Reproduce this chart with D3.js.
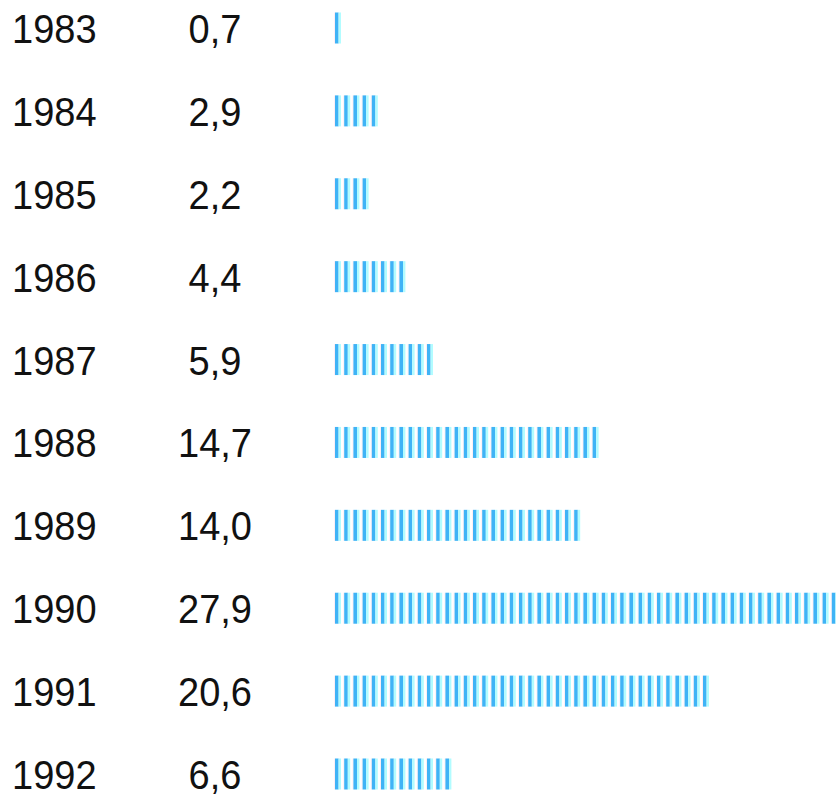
<!DOCTYPE html>
<html lang="en">
  <head>
    <title>Bars by year</title>
    <meta charset="utf-8" />
    <script src="https://cdn.jsdelivr.net/npm/d3@7"></script>
    <style>
      body { margin: 0; background: #fff; }
    </style>
  </head>
  <body>
    <svg id="chart" width="836" height="794"></svg>
    <script>
      // data
      const years = ["1983", "1984", "1985", "1986", "1987", "1988", "1989", "1990", "1991", "1992"];
      const values = [0.7, 2.9, 2.2, 4.4, 5.9, 14.7, 14.0, 27.9, 20.6, 6.6];
      const valueLabels = ["0,7", "2,9", "2,2", "4,4", "5,9", "14,7", "14,0", "27,9", "20,6", "6,6"];
      // number of "|" marks counted in each bar
      const stripeCounts = [1, 5, 4, 8, 11, 29, 27, 55, 41, 13];

      const data = years.map((y, i) => ({
        year: y,
        value: values[i],
        label: valueLabels[i],
        stripes: stripeCounts[i]
      }));

      const svg = d3.select("#chart")
        .attr("font-family", "Liberation Sans, Arial, sans-serif");

      // one row per year
      const yScale = d3.scalePoint()
        .domain(years)
        .range([28, 774]);

      // position of each stripe along the bar
      const xScale = d3.scaleLinear()
        .domain([0, 1])
        .range([335, 344.2]);

      const barHeight = 31;

      const rows = svg.selectAll(".row")
        .data(data)
        .enter()
        .append("g")
        .attr("class", "row")
        .attr("transform", (d) => `translate(0, ${yScale(d.year)})`);

      rows.append("text")
        .attr("transform", "translate(12, 15) scale(1, 1.07)")
        .attr("font-size", "38px")
        .attr("fill", "#111")
        .text((d) => d.year);

      rows.append("text")
        .attr("transform", "translate(215, 15) scale(1, 1.07)")
        .attr("text-anchor", "middle")
        .attr("font-size", "38px")
        .attr("fill", "#111")
        .text((d) => d.label);

      // stripes
      const stripes = rows.selectAll(".stripe")
        .data((d) => d3.range(d.stripes))
        .enter()
        .append("g")
        .attr("class", "stripe")
        .attr("transform", (k) => `translate(${xScale(k)}, ${-barHeight / 2})`);

      stripes.append("rect")
        .attr("x", -1)
        .attr("width", 1)
        .attr("height", barHeight)
        .attr("fill", "#fdeef5");

      stripes.append("rect")
        .attr("x", 0)
        .attr("width", 3.6)
        .attr("height", barHeight)
        .attr("fill", "#3fb3f6");

      stripes.append("rect")
        .attr("x", 3.6)
        .attr("width", 2.4)
        .attr("height", barHeight)
        .attr("fill", "#b2fcff");
    </script>
  </body>
</html>
